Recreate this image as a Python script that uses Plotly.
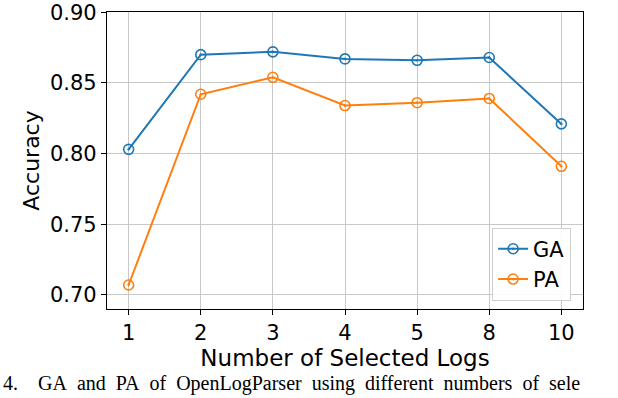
################################
# plot.py
################################

import plotly.graph_objects as go

################################
# Data
################################

log_counts = ["1", "2", "3", "4", "5", "8", "10"]
ga_values = [0.803, 0.870, 0.872, 0.867, 0.866, 0.868, 0.821]
pa_values = [0.707, 0.842, 0.854, 0.834, 0.836, 0.839, 0.791]
y_ticks = [0.70, 0.75, 0.80, 0.85, 0.90]
y_tick_labels = ["0.70", "0.75", "0.80", "0.85", "0.90"]

caption_words = ["GA", "and", "PA", "of", "OpenLogParser", "using",
                 "different", "numbers", "of", "sele"]

BLUE = "#1f77b4"
ORANGE = "#ff7f0e"
FONT = "DejaVu Sans"

################################
# Build figure
################################

fig = go.Figure()

for name, values, color in [("GA", ga_values, BLUE), ("PA", pa_values, ORANGE)]:
    fig.add_trace(go.Scatter(
        x=log_counts,
        y=values,
        name=name,
        mode="lines+markers",
        line=dict(color=color, width=2),
        marker=dict(symbol="circle-open-dot", size=10, color=color,
                    line=dict(width=1.6, color=color)),
    ))

fig.update_xaxes(
    type="category",
    range=[-0.3, 6.3],
    automargin=False,
    title=dict(text="Number of Selected Logs", font=dict(size=23, color="black"), standoff=4),
    tickfont=dict(size=21, color="black"),
    showgrid=True, gridcolor="#c8c8c8", gridwidth=1,
    showline=True, linecolor="black", linewidth=1.3, mirror=True,
    ticks="outside", ticklen=5, tickcolor="black",
)

fig.update_yaxes(
    range=[0.690, 0.9002],
    automargin=False,
    tickvals=y_ticks,
    ticktext=y_tick_labels,
    ticklabeloverflow="allow",
    title=dict(text="Accuracy", font=dict(size=22, color="black"), standoff=4),
    tickfont=dict(size=21, color="black"),
    showgrid=True, gridcolor="#c8c8c8", gridwidth=1,
    showline=True, linecolor="black", linewidth=1.3, mirror=True,
    ticks="outside", ticklen=5, tickcolor="black",
    zeroline=False,
)

# figure caption at the very bottom (the reference crop cuts it off)
gap = "&nbsp;" * 2
caption = "4." + "&nbsp;" * 4 + gap.join(caption_words)
fig.add_annotation(
    text=caption,
    xref="paper", yref="paper",
    x=-0.222, y=-0.2977,
    xanchor="left", yanchor="bottom",
    showarrow=False,
    font=dict(family="Liberation Serif", size=20, color="black"),
)

fig.update_layout(
    width=618,
    height=398,
    margin=dict(l=107, r=35, t=12, b=89),
    paper_bgcolor="white",
    plot_bgcolor="white",
    font=dict(family=FONT, color="black"),
    legend=dict(
        x=0.975, y=0.274, xanchor="right", yanchor="top",
        bgcolor="rgba(255,255,255,0.9)",
        bordercolor="#d0d0d0", borderwidth=1,
        font=dict(size=21),
    ),
)

# drop the default 8px body margin so the figure fills the window exactly
fig.write_html(
    "out.html",
    config={"displayModeBar": False},
    post_script="document.body.style.margin = '0';",
)
